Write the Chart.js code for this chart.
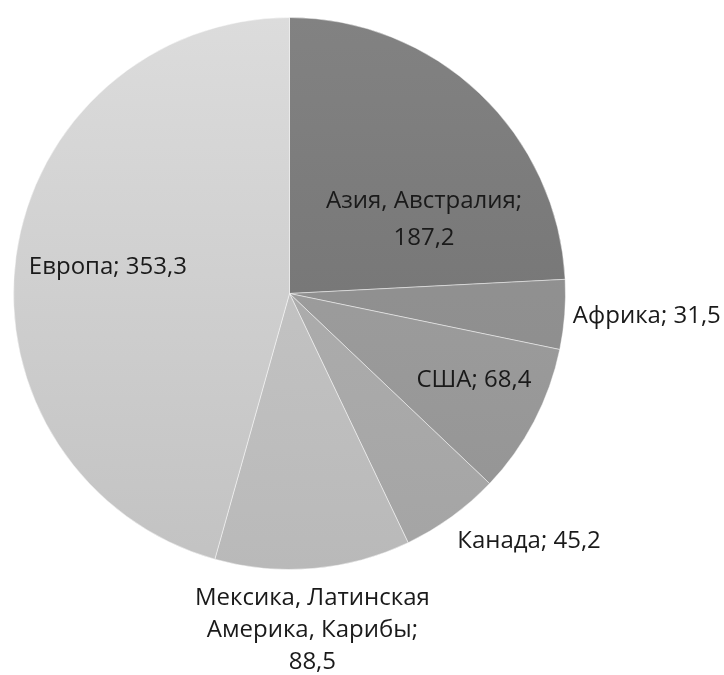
<!DOCTYPE html>
<html><head><meta charset="utf-8">
<script src="https://cdn.jsdelivr.net/npm/chart.js@4/dist/chart.umd.min.js"></script>
<style>html,body{margin:0;padding:0;background:#fff}#wrap{width:724px;height:675px}</style>
</head><body><div id="wrap"><canvas id="c" width="724" height="675"></canvas></div>
<script>
const categories = ["Азия, Австралия", "Африка", "США", "Канада", "Мексика, Латинская Америка, Карибы", "Европа"];
const values = [187.2, 31.5, 68.4, 45.2, 88.5, 353.3];
const labelLines = [["Азия, Австралия;", "187,2"], ["Африка; 31,5"], ["США; 68,4"], ["Канада; 45,2"], ["Мексика, Латинская", "Америка, Карибы;", "88,5"], ["Европа; 353,3"]];
const topColors = ["#828282", "#969696", "#a4a4a4", "#b4b4b4", "#cbcbcb", "#dcdcdc"];
const bottomColors = ["#6e6e6e", "#8a8a8a", "#939393", "#a4a4a4", "#b9b9b9", "#c2c2c2"];
// label placement: [angle in degrees from top, radius factor, line height]
const labelPlace = [[60.7, 0.559, 36.5], [93.4, 1.297, 32], [114.6, 0.735, 32], [135.8, 1.245, 32], [176.1, 1.218, 32], [278.9, 0.666, 32]];
const FONT_SIZE = 24;

const labelPlugin = {
  id: 'sliceLabels',
  afterDatasetsDraw(chart) {
    const ctx = chart.ctx;
    const meta = chart.getDatasetMeta(0);
    ctx.save();
    ctx.font = FONT_SIZE + 'px "Open Sans", sans-serif';
    ctx.fillStyle = '#1a1a1a';
    ctx.textAlign = 'center';
    ctx.textBaseline = 'alphabetic';
    const capHalf = FONT_SIZE * 0.357;
    meta.data.forEach((arc, i) => {
      const [deg, f, lh] = labelPlace[i];
      const a = deg * Math.PI / 180;
      const r = arc.outerRadius * f;
      const cx = arc.x + r * Math.sin(a);
      const cy = arc.y - r * Math.cos(a);
      const lines = labelLines[i];
      const y0 = cy - (lines.length - 1) * lh / 2;
      lines.forEach((t, k) => ctx.fillText(t, cx, y0 + k * lh + capHalf));
    });
    ctx.restore();
  }
};

function grad(ctx, i) {
  const chart = ctx.chart;
  const ca = chart.chartArea;
  if (!ca) return topColors[i];
  const g = chart.ctx.createLinearGradient(0, ca.top, 0, ca.bottom);
  g.addColorStop(0, topColors[i]);
  g.addColorStop(1, bottomColors[i]);
  return g;
}

new Chart(document.getElementById('c'), {
  type: 'pie',
  data: {
    labels: categories,
    datasets: [{
      data: values,
      backgroundColor: (ctx) => grad(ctx, ctx.dataIndex),
      borderColor: 'rgba(255,255,255,0.45)',
      borderWidth: 1
    }]
  },
  options: {
    responsive: false,
    animation: false,
    layout: { padding: { left: 13, right: 158, top: 17, bottom: 105 } },
    plugins: { legend: { display: false }, tooltip: { enabled: false } }
  },
  plugins: [labelPlugin]
});
</script>
</body></html>
